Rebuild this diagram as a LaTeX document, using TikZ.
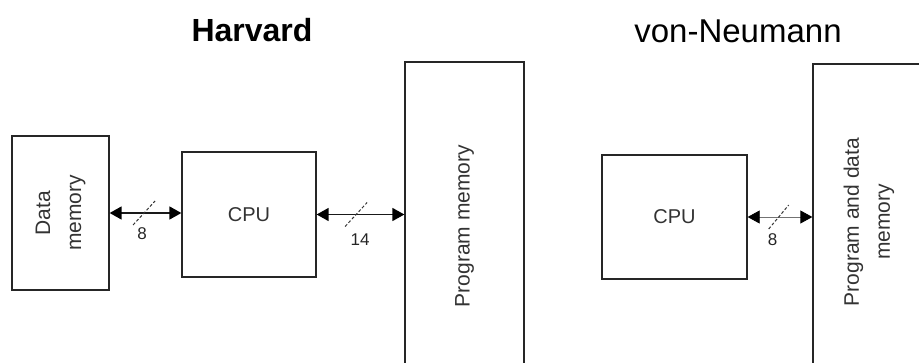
\documentclass[tikz,border=0pt]{standalone}
\usepackage{fontspec}
\setmainfont{Liberation Sans}
\usetikzlibrary{arrows.meta,positioning,calc}
\tikzset{
  unit/.style={rectangle, draw=black!85, line width=1.3pt, inner sep=0pt},
  memtext/.style={rotate=90, align=center, text=black!80,
    font=\fontsize{21}{31}\selectfont},
  cputext/.style={text=black!80, font=\fontsize{20}{24}\selectfont},
  bus/.style={{Triangle[length=12pt,width=13pt,color=black]}-{Triangle[length=12pt,width=13pt,color=black]},
    line width=1.6pt, draw=black!90},
  thinbus/.style={bus, line width=0.8pt, draw=black!55},
  tickline/.style={draw=black!80, line width=1pt, dash pattern=on 3pt off 2pt},
  buswidth/.style={font=\fontsize{17}{19}\selectfont, text=black!85, inner sep=0pt},
  heading/.style={font=\fontsize{33}{36}\selectfont, anchor=base},
}
\begin{document}
\begin{tikzpicture}[x=1pt, y=-1pt]
  \useasboundingbox (0,0) rectangle (919,362);
  \clip (0,0) rectangle (919,362);
  % Harvard
  \node[heading, font=\fontsize{32}{36}\selectfont\bfseries] (harvard) at (252,41) {Harvard};
  \node[unit, minimum width=97pt, minimum height=154pt,
    label={[memtext]center:{Data\\memory}}] (dmem) at (60.5,213) {};
  \node[unit, minimum width=134pt, minimum height=125pt] (hcpu) at (249,214.5) {};
  \node[cputext] at (hcpu) {CPU};
  \node[unit, minimum width=119pt, minimum height=328pt,
    label={[memtext]center:{Program memory}}] (pmem) at (464.5,226) {};
  \draw[bus] (dmem.east) -- coordinate[pos=.48] (s1) (dmem.east -| hcpu.west);
  \draw[bus] (hcpu.east) -- coordinate[pos=.45] (s2) (hcpu.east -| pmem.west);
  \draw[tickline] ([shift={(-11,12)}]s1) -- ([shift={(11,-12)}]s1);
  \draw[tickline] ([shift={(-11,12)}]s2) -- ([shift={(11,-12)}]s2);
  \node[buswidth] at ([shift={(-2,21)}]s1) {8};
  \node[buswidth] at ([shift={(4,25)}]s2) {14};
  % von-Neumann
  \node[heading] (vonneumann) at (738,42) {von-Neumann};
  \node[unit, minimum width=145pt, minimum height=124pt] (vcpu) at (674.5,217) {};
  \node[cputext] at (vcpu) {CPU};
  \node[unit, minimum width=112pt, minimum height=316pt,
    label={[memtext]center:{Program and data\\memory}}] (pdmem) at (869,222) {};
  \draw[thinbus] (vcpu.east) -- coordinate[pos=.48] (s3) (vcpu.east -| pdmem.west);
  \draw[tickline] ([shift={(-10,12)}]s3) -- ([shift={(10,-12)}]s3);
  \node[buswidth] at ([shift={(-6,23)}]s3) {8};
\end{tikzpicture}
\end{document}
